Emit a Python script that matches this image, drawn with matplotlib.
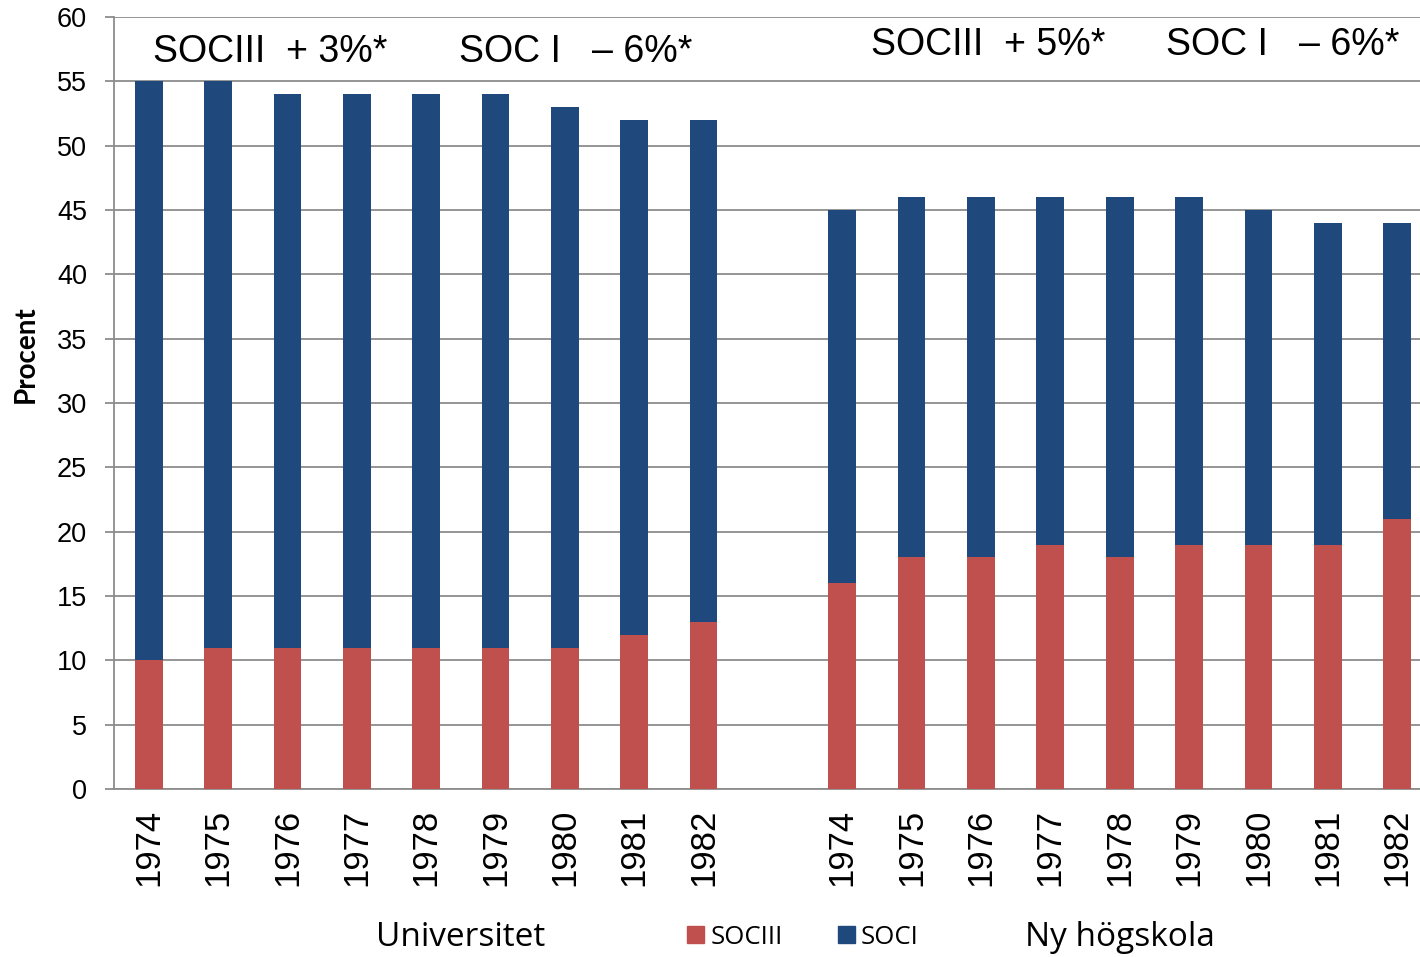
import matplotlib
matplotlib.use("Agg")
import matplotlib.pyplot as plt
import numpy as np
from matplotlib.patches import Patch

years = ["1974", "1975", "1976", "1977", "1978", "1979", "1980", "1981", "1982"]
uni_total = [55, 55, 54, 54, 54, 54, 53, 52, 52]
uni_soc3 = [10, 11, 11, 11, 11, 11, 11, 12, 13]
ny_total = [45, 46, 46, 46, 46, 46, 45, 44, 44]
ny_soc3 = [16, 18, 18, 19, 18, 19, 19, 19, 21]

red = "#C0504D"
blue = "#1F497D"
grid_c = "#8C8C8C"

soc3 = np.array(uni_soc3 + ny_soc3)
soc1 = np.array(uni_total + ny_total) - soc3
x = np.r_[np.arange(9), np.arange(10, 19)]

fig = plt.figure(figsize=(14.2, 9.57), dpi=100)
ax = fig.add_axes([0.0803, 0.1755, 0.9197, 0.8067])

ax.bar(x, soc3, width=0.4, color=red, zorder=3)
ax.bar(x, soc1, width=0.4, bottom=soc3, color=blue, zorder=3)

ax.set_xlim(-0.5, 18.33)
ax.set_ylim(0, 60)
ax.set_yticks(range(0, 61, 5))
ax.yaxis.grid(True, color=grid_c, linewidth=1.3, zorder=0)
ax.tick_params(axis="y", length=6.5, width=1.3, color=grid_c, labelsize=19.5, pad=13)
ax.set_xticks(x)
ax.set_xticklabels(years + years, rotation=90, fontsize=25)
ax.tick_params(axis="x", length=0, pad=14)
for lbl in ax.get_xticklabels() + ax.get_yticklabels():
    lbl.set_family("Liberation Sans")

for s in ["top", "right"]:
    ax.spines[s].set_visible(False)
ax.spines["left"].set_color(grid_c)
ax.spines["bottom"].set_color(grid_c)
ax.spines["left"].set_linewidth(1.3)
ax.spines["bottom"].set_linewidth(1.3)

fig.text(26 / 1420, 1 - 354 / 957, "Procent", fontsize=20, fontweight="bold", family="Lato",
         rotation=90, ha="center", va="center")

ann = dict(fontsize=27, family="Liberation Sans", va="center", ha="left")
fig.text(153 / 1420, 1 - 52 / 957, "SOCIII  + 3%*", **ann)
fig.text(459 / 1420, 1 - 52 / 957, "SOC I   \u2013 6%*", **ann)
fig.text(871 / 1420, 1 - 45 / 957, "SOCIII  + 5%*", **ann)
fig.text(1166 / 1420, 1 - 45 / 957, "SOC I   \u2013 6%*", **ann)

fig.text(461 / 1420, 1 - 938 / 957, "Universitet", fontsize=24, family="Open Sans", ha="center", va="center")
fig.text(1120 / 1420, 1 - 938 / 957, "Ny högskola", fontsize=24, family="Open Sans", ha="center", va="center")

handles = [Patch(color=red, label="SOCIII"), Patch(color=blue, label="SOCI")]
leg = fig.legend(handles=handles, loc="center", bbox_to_anchor=(803 / 1420, 1 - 937 / 957), ncol=2,
                 frameon=False, handlelength=0.65, handleheight=0.65, handletextpad=0.25,
                 columnspacing=2.15, prop={"family": "Open Sans", "size": 18.5})

fig.savefig("out.png", dpi=100)
